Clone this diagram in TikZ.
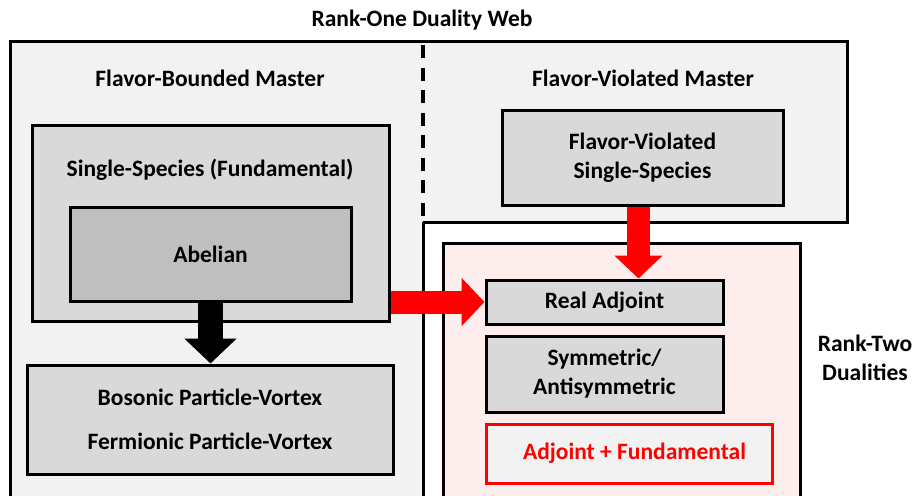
\documentclass[tikz,border=0pt]{standalone}
\usepackage{fontspec}
\setmainfont{Carlito}
\usetikzlibrary{arrows.meta}
\definecolor{panelgray}{HTML}{F2F2F2}
\definecolor{boxgray}{HTML}{D9D9D9}
\definecolor{darkgray}{HTML}{BFBFBF}
\definecolor{rankpink}{HTML}{FDEDED}
\definecolor{pptred}{HTML}{FF0000}

\begin{document}
\begin{tikzpicture}[x=1pt, y=-1pt,
  every node/.style={font=\fontsize{23.5}{29}\selectfont\bfseries, align=center},
  duality/.style={draw=black, line width=3pt, fill=boxgray, inner sep=0pt},
  outline/.style={draw=black, line width=3pt},
  fatred/.style={pptred, line width=23pt, -{Triangle[width=47pt, length=23pt]}},
  fatblack/.style={black, line width=25pt, -{Triangle[width=51pt, length=25pt]}}]
\useasboundingbox (0, 0) rectangle (917, 495);
\clip (0, 0) rectangle (917, 495);
\fill[panelgray] (10, 42) rectangle (423, 510);
\fill[panelgray] (423, 42) rectangle (847, 222);
\draw[outline] (10, 510) -- (10, 42) -- (423, 42);
\draw[outline] (423, 42) -- (847, 42) -- (847, 222) -- (423, 222);
\draw[outline] (423, 222) -- (423, 510);
\draw[line width=4pt, dash pattern=on 13pt off 9.5pt] (423, 45) -- (423, 222);
\draw[outline, fill=rankpink] (443, 243) rectangle (800, 510);
\node (web) at (422, 20) {Rank-One Duality Web};
\node (bounded) at (210, 78) {Flavor-Bounded Master};
\node (violated) at (643, 78) {Flavor-Violated Master};
\node[duality, minimum width=357, minimum height=196] (single) at (210.5, 223) {};
\node (singlelabel) at (210, 170) {Single-Species (Fundamental)};
\node[duality, fill=darkgray, minimum width=281, minimum height=94] (abelian) at (210.5, 254) {Abelian};
\node[duality, minimum width=366, minimum height=109] (vortex) at (210, 419.5) {Bosonic Particle-Vortex\\[15pt]Fermionic Particle-Vortex};
\node[duality, minimum width=281, minimum height=95] (fvsingle) at (642.5, 157.5) {Flavor-Violated\\Single-Species};
\node[duality, minimum width=237, minimum height=44] (realadj) at (604.5, 302) {Real Adjoint};
\node[duality, minimum width=237, minimum height=76] (symanti) at (604.5, 374) {Symmetric/\\Antisymmetric};
\node[duality, draw=pptred, fill=panelgray, text=pptred, minimum width=286, minimum height=59] (adjfund) at (629, 453.5) {\hspace*{11pt}Adjoint + Fundamental};
\node (ranktwo) at (865, 357.5) {Rank-Two\\Dualities};
\draw[fatblack] (abelian.south) -- (abelian.south |- vortex.north);
\draw[fatred] ([xshift=-4pt]fvsingle.south) -- ([xshift=-4pt]fvsingle.south |- realadj.north);
\draw[fatred] (single.east |- realadj.west) -- (realadj.west);
\end{tikzpicture}
\end{document}
